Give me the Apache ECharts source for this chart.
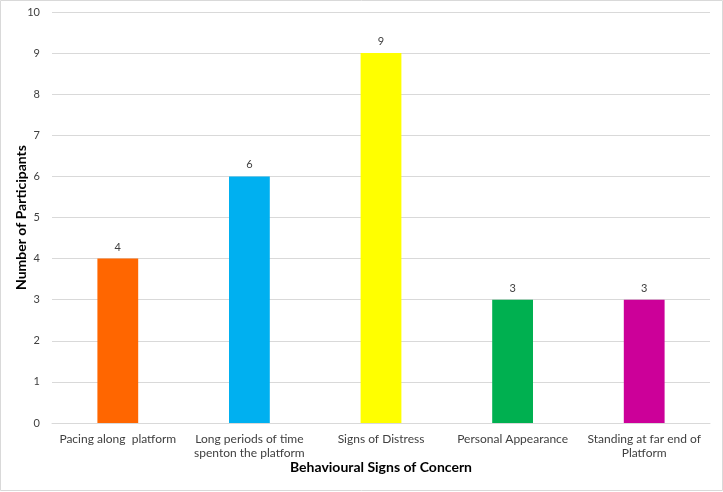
<!DOCTYPE html>
<html><head><meta charset="utf-8">
<script src="https://cdn.jsdelivr.net/npm/echarts@6/dist/echarts.min.js"></script>
<style>html,body{margin:0;padding:0;background:#fff}#c{width:723px;height:492px}</style>
</head><body><div id="c"></div>
<script>
const categories = ['Pacing along  platform', 'Long periods of time\nspenton the platform', 'Signs of Distress', 'Personal Appearance', 'Standing at far end of\nPlatform'];
const values = [4, 6, 9, 3, 3];
const barColors = ['#FF6600', '#00B0F0', '#FFFF00', '#00B050', '#CC0099'];
const yTicks = [0, 10, 1];
const chart = echarts.init(document.getElementById('c'));
const font = 'Lato, "Open Sans", sans-serif';
chart.setOption({
  animation: false,
  textStyle: { fontFamily: font },
  graphic: [{ type: 'rect', shape: { x: 0.5, y: 0.5, width: 722, height: 490 }, style: { fill: 'none', stroke: '#d9d9d9', lineWidth: 1 }, silent: true }],
  grid: { left: 52, right: 13, top: 12, bottom: 69, containLabel: false, outerBoundsMode: 'none' },
  xAxis: {
    type: 'category', data: categories,
    name: 'Behavioural Signs of Concern', nameLocation: 'middle', nameGap: 37, nameMoveOverlap: false,
    nameTextStyle: { fontFamily: font, fontWeight: 'bold', fontSize: 14, color: '#000' },
    axisLine: { lineStyle: { color: '#d9d9d9' } }, axisTick: { show: false },
    axisLabel: { interval: 0, color: '#404040', fontSize: 12, margin: 9, lineHeight: 14, fontFamily: font }
  },
  yAxis: {
    type: 'value', min: yTicks[0], max: yTicks[1], interval: yTicks[2],
    name: 'Number of Participants', nameLocation: 'middle', nameGap: 24, nameMoveOverlap: false,
    nameTextStyle: { fontFamily: font, fontWeight: 'bold', fontSize: 14, color: '#000' },
    axisLine: { show: false }, axisTick: { show: false },
    axisLabel: { color: '#404040', fontSize: 11, margin: 12, fontFamily: font },
    splitLine: { lineStyle: { color: '#d9d9d9' } }
  },
  series: [{
    type: 'bar', barWidth: '31%',
    data: values.map((v, i) => ({ value: v, itemStyle: { color: barColors[i] } })),
    label: { show: true, position: 'top', color: '#404040', fontSize: 11, distance: 6, fontFamily: font }
  }]
});
</script></body></html>
